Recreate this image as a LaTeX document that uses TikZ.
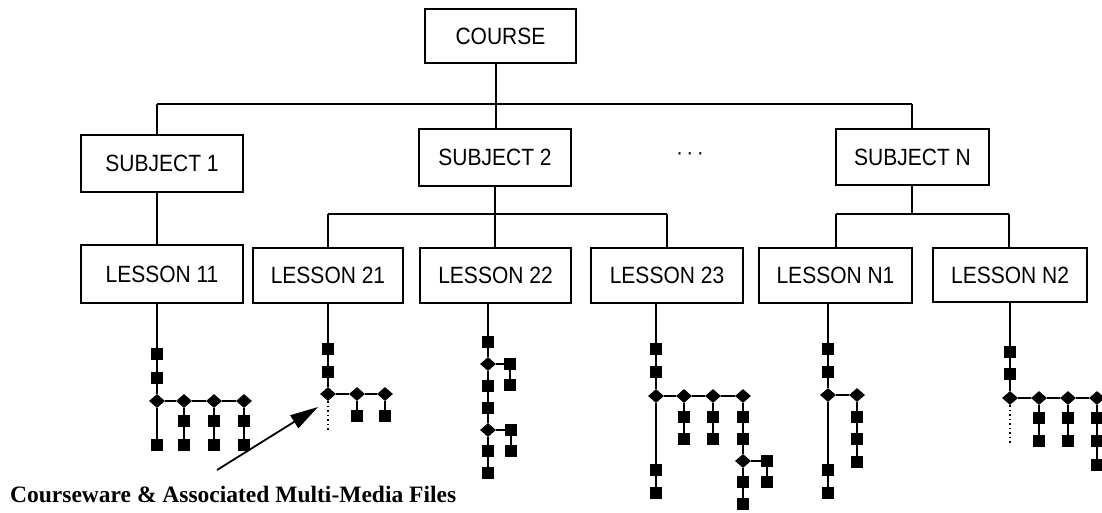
\documentclass[tikz,border=0pt]{standalone}
\usepackage{fontspec}
\usepackage{graphicx}
\setmainfont{Liberation Sans}
\newfontfamily\capfont{Liberation Serif}
\usetikzlibrary{shapes.geometric,arrows.meta}
\newcommand\stretchtxt[1]{\scalebox{1}[1.12]{#1}}
\tikzset{
  box/.style={draw, line width=1.8pt, inner sep=0pt, font=\fontsize{21}{21}\selectfont},
  conn/.style={line width=1.8pt},
  tl/.style={line width=1.6pt},
  sq/.style={rectangle, fill=black, minimum size=12pt, inner sep=0pt},
  dm/.style={diamond, fill=black, minimum width=16pt, minimum height=14pt, inner sep=0pt},
  dotline/.style={line width=1.3pt, dash pattern=on 1.5pt off 3pt},
}
\begin{document}
\begin{tikzpicture}[x=1pt,y=-1pt]
\useasboundingbox (0,0) rectangle (1102,513);
\fill[white] (0,0) rectangle (1102,513);
\clip (0,0) rectangle (1102,513);

% boxes
\node[box, minimum width=151pt, minimum height=54pt] (course) at (500.5,36) {\stretchtxt{COURSE}};
\node[box, minimum width=162pt, minimum height=57pt] (s1) at (162,163.5) {\stretchtxt{SUBJECT 1}};
\node[box, minimum width=152pt, minimum height=57pt] (s2) at (495,157.5) {\stretchtxt{SUBJECT 2}};
\node[box, minimum width=153pt, minimum height=56pt] (sN) at (912.5,157) {\stretchtxt{SUBJECT N}};
\node[font=\fontsize{21}{21}\selectfont] (dots) at (690,156) {·\,·\,·};
\node[box, minimum width=162pt, minimum height=58pt] (l11) at (162,274) {\stretchtxt{LESSON 11}};
\node[box, minimum width=150pt, minimum height=55pt] (l21) at (328,275.5) {\stretchtxt{LESSON 21}};
\node[box, minimum width=151pt, minimum height=55pt] (l22) at (495.5,275.5) {\stretchtxt{LESSON 22}};
\node[box, minimum width=152pt, minimum height=55pt] (l23) at (667,275.5) {\stretchtxt{LESSON 23}};
\node[box, minimum width=153pt, minimum height=55pt] (lN1) at (835.5,275.5) {\stretchtxt{LESSON N1}};
\node[box, minimum width=154pt, minimum height=54pt] (lN2) at (1010,275) {\stretchtxt{LESSON N2}};

% bus connectors
\coordinate (b0) at (496,104);
\coordinate (b1) at (157,104);
\coordinate (bN) at (912,104);
\draw[conn] (course.south -| b0) -- (b0);
\draw[conn] (b1) -- (bN);
\draw[conn] (b1) -- (s1.north -| b1);
\draw[conn] (b0) -- (s2.north -| b0);
\draw[conn] (bN) -- (sN.north -| bN);
\draw[conn] (s1.south -| b1) -- (l11.north -| b1);

\coordinate (c2) at (495,214);
\coordinate (c2l) at (328,214);
\coordinate (c2r) at (667,214);
\draw[conn] (s2.south -| c2) -- (c2);
\draw[conn] (c2l) -- (c2r);
\draw[conn] (c2l) -- (l21.north -| c2l);
\draw[conn] (c2) -- (l22.north -| c2);
\draw[conn] (c2r) -- (l23.north -| c2r);

\coordinate (cN) at (912,214);
\coordinate (cNl) at (836,214);
\coordinate (cNr) at (1009,214);
\draw[conn] (sN.south -| cN) -- (cN);
\draw[conn] (cNl) -- (cNr);
\draw[conn] (cNl) -- (lN1.north -| cNl);
\draw[conn] (cNr) -- (lN2.north -| cNr);

% ---------- tree under LESSON 11
\node[sq] (a1) at (157,354) {};
\node[sq] (a2) at (157,378) {};
\node[dm] (a3) at (157,401) {};
\node[sq] (a4) at (157,445) {};
\node[dm] (a5) at (184,401) {};
\node[sq] (a6) at (184,421) {};
\node[sq] (a7) at (184,445) {};
\node[dm] (a8) at (214,401) {};
\node[sq] (a9) at (214,421) {};
\node[sq] (a10) at (214,445) {};
\node[dm] (a11) at (244,401) {};
\node[sq] (a12) at (244,421) {};
\node[sq] (a13) at (244,445) {};
\draw[tl] (l11.south -| a1) -- (a1) -- (a2) -- (a3) -- (a4);
\draw[tl] (a3) -- (a5) -- (a8) -- (a11);
\draw[tl] (a5) -- (a6) -- (a7);
\draw[tl] (a8) -- (a9) -- (a10);
\draw[tl] (a11) -- (a12) -- (a13);

% ---------- tree under LESSON 21
\node[sq] (b1n) at (328,349) {};
\node[sq] (b2n) at (328,372) {};
\node[dm] (b3n) at (328,394) {};
\node[dm] (b4n) at (357,394) {};
\node[sq] (b5n) at (357,416) {};
\node[dm] (b6n) at (385,394) {};
\node[sq] (b7n) at (385,416) {};
\coordinate (bx) at (328,432);
\draw[tl] (l21.south -| b1n) -- (b1n) -- (b2n) -- (b3n);
\draw[tl] (b3n) -- (b4n) -- (b6n);
\draw[tl] (b4n) -- (b5n);
\draw[tl] (b6n) -- (b7n);
\draw[dotline] (b3n) -- (bx);

% ---------- tree under LESSON 22
\node[sq] (c1n) at (488,342) {};
\node[dm] (c2n) at (488,364) {};
\node[sq] (c3n) at (510,364) {};
\node[sq] (c4n) at (510,385) {};
\node[sq] (c5n) at (488,386) {};
\node[sq] (c6n) at (488,408) {};
\node[dm] (c7n) at (488,430) {};
\node[sq] (c8n) at (511,430) {};
\node[sq] (c9n) at (511,451) {};
\node[sq] (c10n) at (488,451) {};
\node[sq] (c11n) at (488,473) {};
\draw[tl] (l22.south -| c1n) -- (c1n) -- (c2n) -- (c5n) -- (c6n) -- (c7n) -- (c10n) -- (c11n);
\draw[tl] (c2n) -- (c3n) -- (c4n);
\draw[tl] (c7n) -- (c8n) -- (c9n);

% ---------- tree under LESSON 23
\node[sq] (d1) at (656,349) {};
\node[sq] (d2) at (656,372) {};
\node[dm] (d3) at (656,396) {};
\node[dm] (d4) at (684,396) {};
\node[sq] (d5) at (684,417) {};
\node[sq] (d6) at (684,439) {};
\node[dm] (d7) at (713,396) {};
\node[sq] (d8) at (713,417) {};
\node[sq] (d9) at (713,439) {};
\node[dm] (d10) at (743,396) {};
\node[sq] (d11) at (743,417) {};
\node[sq] (d12) at (743,439) {};
\node[dm] (d13) at (743,461) {};
\node[sq] (d14) at (767,461) {};
\node[sq] (d15) at (767,482) {};
\node[sq] (d16) at (743,482) {};
\node[sq] (d17) at (743,504) {};
\node[sq] (d18) at (656,470) {};
\node[sq] (d19) at (656,493) {};
\draw[tl] (l23.south -| d1) -- (d1) -- (d2) -- (d3) -- (d18) -- (d19);
\draw[tl] (d3) -- (d4) -- (d7) -- (d10);
\draw[tl] (d4) -- (d5) -- (d6);
\draw[tl] (d7) -- (d8) -- (d9);
\draw[tl] (d10) -- (d11) -- (d12) -- (d13) -- (d16) -- (d17);
\draw[tl] (d13) -- (d14) -- (d15);

% ---------- tree under LESSON N1
\node[sq] (e1) at (828,349) {};
\node[sq] (e2) at (828,372) {};
\node[dm] (e3) at (828,395) {};
\node[dm] (e4) at (857,395) {};
\node[sq] (e5) at (857,417) {};
\node[sq] (e6) at (857,439) {};
\node[sq] (e7) at (857,462) {};
\node[sq] (e8) at (828,470) {};
\node[sq] (e9) at (828,493) {};
\draw[tl] (lN1.south -| e1) -- (e1) -- (e2) -- (e3) -- (e8) -- (e9);
\draw[tl] (e3) -- (e4) -- (e5) -- (e6) -- (e7);

% ---------- tree under LESSON N2
\node[sq] (f1) at (1010,352) {};
\node[sq] (f2) at (1010,374) {};
\node[dm] (f3) at (1010,398) {};
\node[dm] (f4) at (1039,398) {};
\node[sq] (f5) at (1039,418) {};
\node[sq] (f6) at (1039,441) {};
\node[dm] (f7) at (1068,398) {};
\node[sq] (f8) at (1068,418) {};
\node[sq] (f9) at (1068,441) {};
\node[dm] (f10) at (1097,398) {};
\node[sq] (f11) at (1097,418) {};
\node[sq] (f12) at (1097,441) {};
\node[sq] (f13) at (1097,465) {};
\coordinate (fx) at (1010,444);
\draw[tl] (lN2.south -| f1) -- (f1) -- (f2) -- (f3);
\draw[tl] (f3) -- (f4) -- (f7) -- (f10);
\draw[tl] (f4) -- (f5) -- (f6);
\draw[tl] (f7) -- (f8) -- (f9);
\draw[tl] (f10) -- (f11) -- (f12) -- (f13);
\draw[dotline] (f3) -- (fx);

% ---------- caption and arrow
\node[anchor=base west, inner sep=0pt, font=\capfont\bfseries\fontsize{23.5}{23.5}\selectfont] (cap) at (10,502) {Courseware \& Associated Multi-Media Files};
\coordinate (atail) at (217,470);
\coordinate (ahead) at (318,407);
\draw[line width=1.8pt, -{Triangle[length=28pt,width=15pt]}] (atail) -- (ahead);
\end{tikzpicture}
\end{document}
